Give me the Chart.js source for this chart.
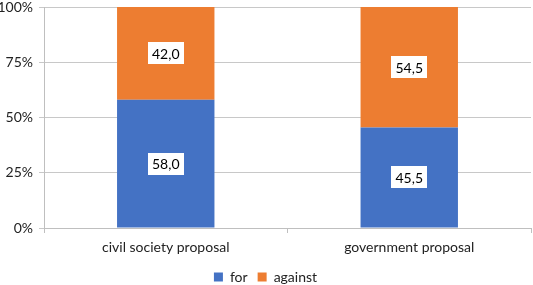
<!DOCTYPE html>
<html>
<head>
<meta charset="utf-8">
<script src="https://cdn.jsdelivr.net/npm/chart.js@4"></script>
<style>
  html, body { margin: 0; padding: 0; background: #fff; }
  #wrap { width: 533px; height: 285px; }
</style>
</head>
<body>
<div id="wrap"><canvas id="myChart"></canvas></div>
<script>
const categories = ['civil society proposal', 'government proposal'];
const forValues = [58.0, 45.5];
const againstValues = [42.0, 54.5];
const yTicks = [0, 25, 50, 75, 100];

const fontFamily = 'Lato, "Open Sans", sans-serif';

// draws the value of each segment in a small white box
const boxLabels = {
    id: 'boxLabels',
    afterDatasetsDraw(chart) {
        const ctx = chart.ctx;
        ctx.save();
        ctx.font = '14px ' + fontFamily;
        ctx.textAlign = 'center';
        ctx.textBaseline = 'middle';
        chart.data.datasets.forEach((ds, i) => {
            chart.getDatasetMeta(i).data.forEach((bar, j) => {
                const text = ds.data[j].toFixed(1).replace('.', ',');
                const y = (bar.y + bar.base) / 2;
                const w = ctx.measureText(text).width + 8;
                const h = 22;
                ctx.fillStyle = '#fff';
                ctx.fillRect(Math.round(bar.x - w / 2), Math.round(y - h / 2), Math.round(w), h);
                ctx.fillStyle = '#000';
                ctx.fillText(text, bar.x, y + 1);
            });
        });
        ctx.restore();
    }
};

let ctx = document.getElementById('myChart').getContext('2d');
let myChart = new Chart(ctx, {
    type: 'bar',
    data: {
        labels: categories,
        datasets: [
            {
                label: 'for',
                data: forValues,
                backgroundColor: '#4472C4',
                categoryPercentage: 1,
                barPercentage: 0.4
            },
            {
                label: 'against',
                data: againstValues,
                backgroundColor: '#ED7D31',
                categoryPercentage: 1,
                barPercentage: 0.4
            }
        ]
    },
    options: {
        responsive: true,
        maintainAspectRatio: false,
        animation: false,
        layout: {
            padding: { top: 0, right: 2, left: 0, bottom: -9 }
        },
        plugins: {
            legend: {
                position: 'bottom',
                labels: {
                    boxWidth: 9,
                    boxHeight: 9,
                    padding: 10,
                    color: '#222',
                    font: { family: fontFamily, size: 14 }
                }
            },
            tooltip: { enabled: false }
        },
        scales: {
            x: {
                stacked: true,
                afterFit: function(axis) {
                    axis.height = 32;
                },
                grid: {
                    offset: true,
                    drawOnChartArea: false,
                    drawTicks: true,
                    tickLength: 5,
                    color: '#bfbfbf'
                },
                border: { color: '#bfbfbf' },
                ticks: {
                    color: '#222',
                    padding: 6,
                    font: { family: fontFamily, size: 14 }
                }
            },
            y: {
                stacked: true,
                min: 0,
                max: 100,
                afterBuildTicks: function(axis) {
                    axis.ticks = yTicks.map(v => ({ value: v }));
                },
                afterFit: function(axis) {
                    axis.width = 44;
                    axis.paddingTop = 7;
                },
                grid: {
                    color: '#c8c8c8',
                    tickLength: 5
                },
                border: { color: '#bfbfbf' },
                ticks: {
                    color: '#222',
                    padding: 6,
                    font: { family: fontFamily, size: 14 },
                    callback: function(value) {
                        return value + '%';
                    }
                }
            }
        }
    },
    plugins: [boxLabels]
});
</script>
</body>
</html>
